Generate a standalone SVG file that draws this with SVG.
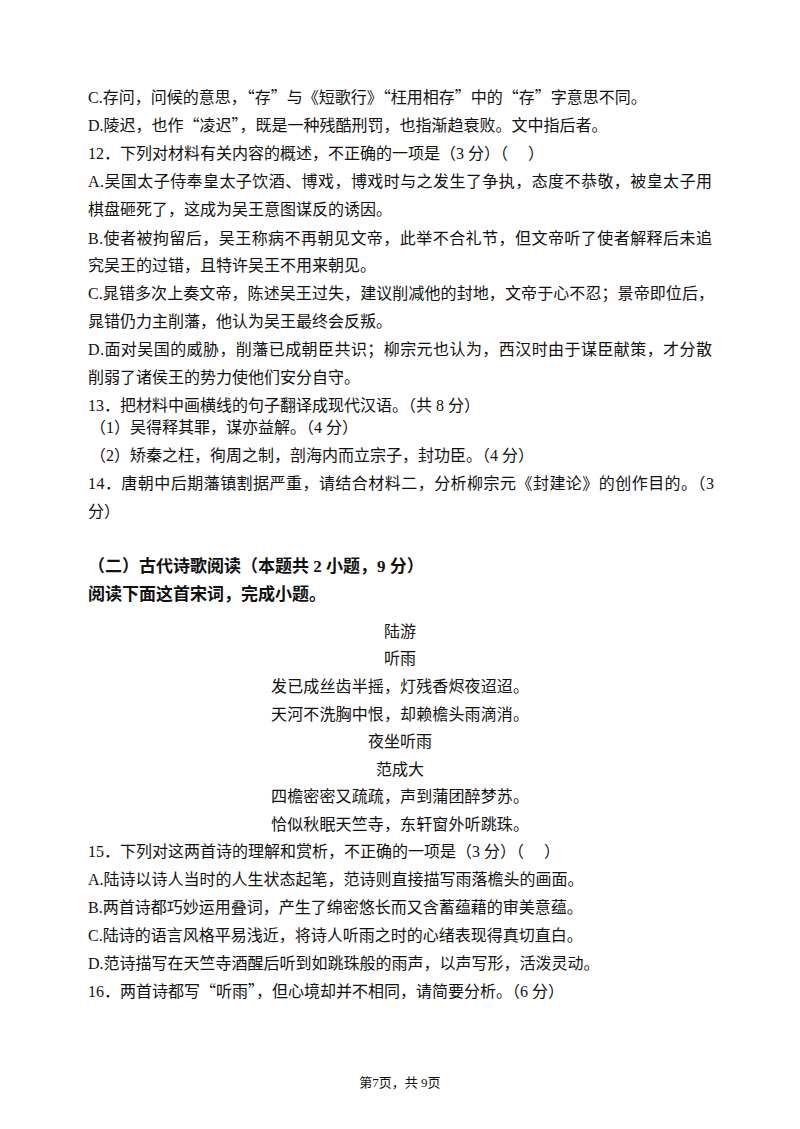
<svg xmlns="http://www.w3.org/2000/svg" width="800" height="1129" viewBox="0 0 800 1129">
<style>
text{font-family:"Liberation Serif","Noto Sans CJK SC",serif;font-size:16px;fill:#111}
.q{font-family:"Noto Sans CJK SC",sans-serif}
.b{font-weight:bold;font-size:17px}
.c{text-anchor:middle}
.f{font-size:13px}
</style>
<rect width="800" height="1129" fill="#fff"/>
<g id="q11">
<text x="88" y="103">C.<tspan class="q">存问，问候的意思，“存”与《短歌行》“枉用相存”中的“存”字意思不同。</tspan></text>
<text x="88" y="131">D.<tspan class="q">陵迟，也作“凌迟”，既是一种残酷刑罚，也指渐趋衰败。文中指后者。</tspan></text>
</g>
<g id="q12">
<text x="88" y="159">12．下列对材料有关内容的概述，不正确的一项是（3 分）（　 ）</text>
<text x="88" y="187" textLength="624">A.吴国太子侍奉皇太子饮酒、博戏，博戏时与之发生了争执，态度不恭敬，被皇太子用</text>
<text x="88" y="215">棋盘砸死了，这成为吴王意图谋反的诱因。</text>
<text x="88" y="244" textLength="624">B.使者被拘留后，吴王称病不再朝见文帝，此举不合礼节，但文帝听了使者解释后未追</text>
<text x="88" y="271">究吴王的过错，且特许吴王不用来朝见。</text>
<text x="88" y="299" textLength="626">C.晁错多次上奏文帝，陈述吴王过失，建议削减他的封地，文帝于心不忍；景帝即位后，</text>
<text x="88" y="327">晁错仍力主削藩，他认为吴王最终会反叛。</text>
<text x="88" y="355" textLength="624">D.面对吴国的威胁，削藩已成朝臣共识；柳宗元也认为，西汉时由于谋臣献策，才分散</text>
<text x="88" y="383">削弱了诸侯王的势力使他们安分自守。</text>
</g>
<g id="q13">
<text x="88" y="411">13．把材料中画横线的句子翻译成现代汉语。（共 8 分）</text>
<text x="90" y="433">（1）吴得释其罪，谋亦益解。（4 分）</text>
<text x="90" y="461">（2）矫秦之枉，徇周之制，剖海内而立宗子，封功臣。（4 分）</text>
</g>
<g id="q14">
<text x="88" y="489" textLength="626">14．唐朝中后期藩镇割据严重，请结合材料二，分析柳宗元《封建论》的创作目的。（3</text>
<text x="88" y="517">分）</text>
</g>
<g id="section">
<text class="b" x="88" y="572">（二）古代诗歌阅读（本题共 2 小题，9 分）</text>
<text class="b" x="88" y="600">阅读下面这首宋词，完成小题。</text>
</g>
<g id="poems">
<text class="c" x="400" y="637">陆游</text>
<text class="c" x="400" y="664">听雨</text>
<text class="c" x="400" y="692" textLength="258">发已成丝齿半摇，灯残香烬夜迢迢。</text>
<text class="c" x="400" y="720" textLength="258">天河不洗胸中恨，却赖檐头雨滴消。</text>
<text class="c" x="400" y="747">夜坐听雨</text>
<text class="c" x="400" y="775">范成大</text>
<text class="c" x="400" y="802" textLength="258">四檐密密又疏疏，声到蒲团醉梦苏。</text>
<text class="c" x="400" y="830" textLength="258">恰似秋眠天竺寺，东轩窗外听跳珠。</text>
</g>
<g id="q15">
<text x="88" y="857">15．下列对这两首诗的理解和赏析，不正确的一项是（3 分）（　 ）</text>
<text x="88" y="885">A.陆诗以诗人当时的人生状态起笔，范诗则直接描写雨落檐头的画面。</text>
<text x="88" y="913">B.两首诗都巧妙运用叠词，产生了绵密悠长而又含蓄蕴藉的审美意蕴。</text>
<text x="88" y="941">C.陆诗的语言风格平易浅近，将诗人听雨之时的心绪表现得真切直白。</text>
<text x="88" y="969">D.范诗描写在天竺寺酒醒后听到如跳珠般的雨声，以声写形，活泼灵动。</text>
</g>
<g id="q16">
<text x="88" y="997">16．两首诗都写<tspan class="q">“听雨”</tspan>，但心境却并不相同，请简要分析。（6 分）</text>
</g>
<g id="footer">
<text class="c f" x="400" y="1087">第7页，共 9页</text>
</g>
</svg>
